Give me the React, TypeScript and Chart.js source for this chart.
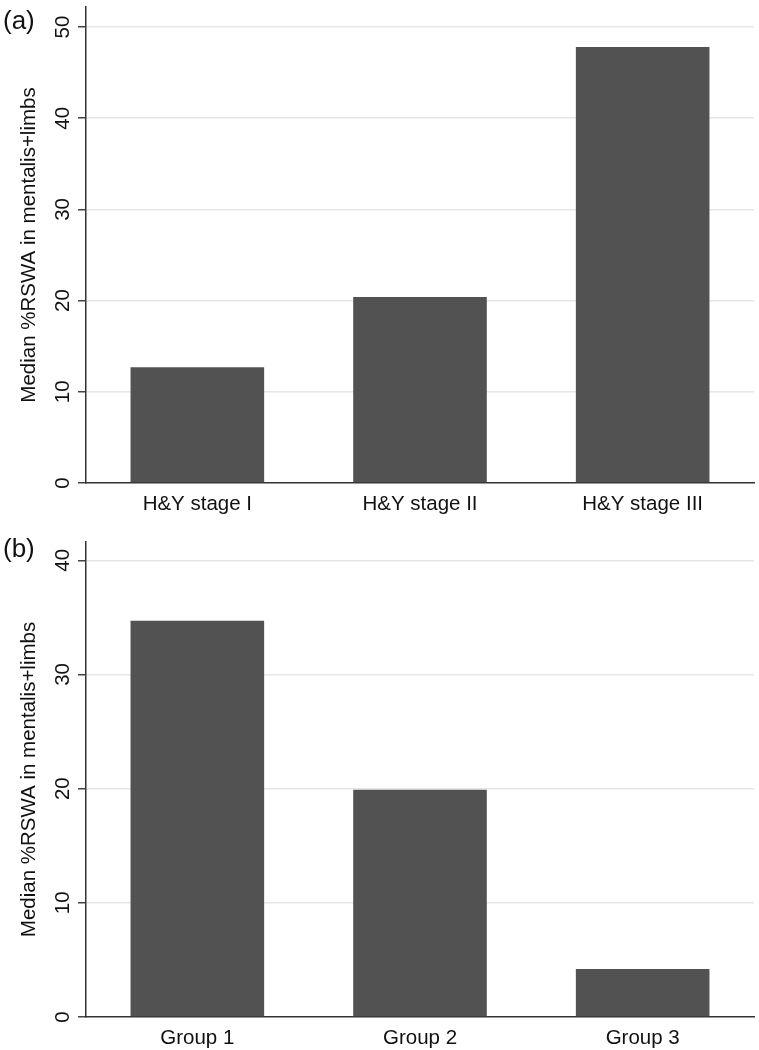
import React, { useEffect, useRef } from "react";
import { Chart, registerables } from "chart.js";

Chart.register(...registerables);

const categoriesA = ["H&Y stage I", "H&Y stage II", "H&Y stage III"];
const valuesA = [12.7, 20.4, 47.8];
const ticksA = [0, 10, 20, 30, 40, 50];
const axisMaxA = 52.2;

const categoriesB = ["Group 1", "Group 2", "Group 3"];
const valuesB = [34.7, 19.9, 4.2];
const ticksB = [0, 10, 20, 30, 40];
const axisMaxB = 41.6;

const yTitle = "Median %RSWA in mentalis+limbs";

const FONT = "'Liberation Sans', Arial, sans-serif";
const W = 759;
const H = 525;

type PanelProps = {
  labels: string[];
  values: number[];
  tickValues: number[];
  max: number;
  padTop: number;
  xHeight: number;
};

function Panel({ labels, values, tickValues, max, padTop, xHeight }: PanelProps) {
  const ref = useRef<HTMLCanvasElement | null>(null);
  useEffect(() => {
    if (!ref.current) return;
    const font = { family: FONT, size: 20.5 };
    const chart = new Chart(ref.current, {
      type: "bar",
      data: {
        labels,
        datasets: [
          {
            data: values,
            backgroundColor: "#525252",
            borderWidth: 0,
            barPercentage: 0.6,
            categoryPercentage: 1.0,
          },
        ],
      },
      options: {
        responsive: false,
        animation: false,
        layout: { padding: { top: padTop, right: 5, left: 0, bottom: 0 } },
        plugins: { legend: { display: false }, tooltip: { enabled: false } },
        scales: {
          x: {
            grid: { display: false },
            border: { display: true, color: "#333", width: 1.5 },
            ticks: { font, color: "#111", padding: 1, maxRotation: 0 },
            afterFit: (s: any) => {
              s.height = xHeight;
            },
          },
          y: {
            min: 0,
            max,
            afterBuildTicks: (s: any) => {
              s.ticks = tickValues.map((v) => ({ value: v }));
            },
            grid: {
              color: (ctx: any) =>
                ctx.tick && ctx.tick.value === 0 ? "rgba(0,0,0,0)" : "#e6e6e6",
              lineWidth: 1.5,
              tickColor: "#444",
              tickLength: 8,
              tickWidth: 1.5,
            },
            border: { display: true, color: "#333", width: 1.5 },
            ticks: {
              font,
              color: "#111",
              padding: 3,
              minRotation: 90,
              maxRotation: 90,
              crossAlign: "center",
            },
            title: {
              display: true,
              text: yTitle,
              font,
              color: "#111",
              padding: { top: 17, bottom: 0 },
            },
            afterFit: (s: any) => {
              s.width = 86;
              s.paddingTop = 0;
              s.paddingBottom = 0;
            },
          },
        },
      },
    } as any);
    return () => chart.destroy();
  }, []);
  return <canvas ref={ref} width={W} height={H} style={{ display: "block", width: W, height: H }} />;
}

const tagStyle: React.CSSProperties = {
  position: "absolute",
  left: 3,
  fontFamily: FONT,
  fontSize: 26,
  lineHeight: "30px",
  color: "#111",
};

export default function App() {
  return (
    <div style={{ position: "absolute", left: 0, top: 0, width: W, height: 1050, background: "#fff" }}>
      <div style={{ position: "absolute", left: 0, top: 0 }}>
        <Panel labels={categoriesA} values={valuesA} tickValues={ticksA} max={axisMaxA} padTop={7} xHeight={42} />
      </div>
      <div style={{ position: "absolute", left: 0, top: 525 }}>
        <Panel labels={categoriesB} values={valuesB} tickValues={ticksB} max={axisMaxB} padTop={17} xHeight={33} />
      </div>
      <div style={{ ...tagStyle, top: 5 }}>(a)</div>
      <div style={{ ...tagStyle, top: 533 }}>(b)</div>
    </div>
  );
}
